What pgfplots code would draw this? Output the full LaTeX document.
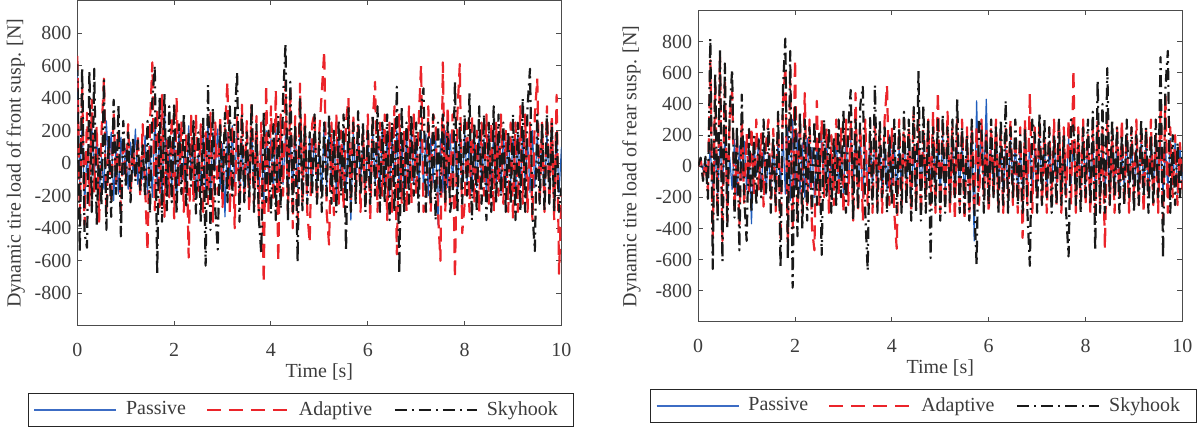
\documentclass[border=0pt]{standalone}
\usepackage{fontspec}
\setmainfont{Liberation Serif}
\usepackage{pgfplots}
\usepackage{pgfplotstable}
\pgfplotsset{compat=1.18}
\definecolor{cblue}{RGB}{32,94,189}
\definecolor{lblue}{RGB}{60,108,196}
\definecolor{cred}{RGB}{235,36,42}
\definecolor{cblk}{RGB}{25,25,25}
\definecolor{txt}{RGB}{60,60,60}

\pgfplotstableread{
t P A S
0.00 560 660 610
0.05 -120 -310 -550
0.10 240 470 590
0.15 -260 -380 -430
0.20 60 310 -520
0.25 -140 -260 570
0.30 230 390 -300
0.35 -90 -180 580
0.40 170 230 -380
0.45 -210 -360 90
0.50 40 190 -260
0.55 -160 520 510
0.60 260 -310 -410
0.65 -30 140 170
0.70 190 -240 -330
0.75 -230 310 390
0.80 110 -130 -190
0.85 -190 210 360
0.90 160 -290 -450
0.95 -70 170 260
1.00 90 -110 -140
1.05 -160 240 190
1.10 130 -190 -240
1.15 -60 90 160
1.20 210 -80 -110
1.25 -130 170 140
1.30 20 -210 -170
1.35 -100 240 110
1.40 170 -140 -210
1.45 -190 -540 260
1.50 110 240 -310
1.55 -210 620 390
1.60 270 -290 600
1.65 -140 340 -680
1.70 210 -270 410
1.75 -230 420 -360
1.80 360 -330 430
1.85 -170 140 -290
1.90 80 -210 350
1.95 -150 290 -240
2.00 190 -340 370
2.05 -260 400 -310
2.10 210 -140 240
2.15 -110 260 -190
2.20 30 -300 310
2.25 -190 190 -260
2.30 230 -580 190
2.35 -90 300 -140
2.40 170 -240 260
2.45 -210 300 -310
2.50 60 -170 190
2.55 -160 240 -360
2.60 200 -300 290
2.65 -180 190 -630
2.70 260 -250 480
2.75 -220 310 -410
2.80 190 -360 340
2.85 -40 250 -290
2.90 210 -190 -530
2.95 -160 290 240
3.00 120 -270 -190
3.05 -330 200 310
3.10 190 500 -240
3.15 -140 -310 350
3.20 230 240 -200
3.25 -120 -400 260
3.30 200 290 560
3.35 -190 -250 -360
3.40 140 360 300
3.45 -220 -190 -240
3.50 50 260 190
3.55 -130 -300 -210
3.60 210 380 370
3.65 -150 -240 -300
3.70 180 290 240
3.75 -200 -350 -340
3.80 160 250 -560
3.85 -250 -740 310
3.90 200 480 -240
3.95 -90 -300 200
4.00 150 350 -310
4.05 -190 -240 240
4.10 220 450 -350
4.15 -150 -610 290
4.20 260 300 -280
4.25 -130 -200 400
4.30 180 500 730
4.35 -200 -310 -360
4.40 150 450 500
4.45 -190 -400 -300
4.50 230 290 240
4.55 -150 -350 -610
4.60 200 490 410
4.65 -110 -250 -290
4.70 150 300 240
4.75 -200 -300 -250
4.80 180 -490 190
4.85 -150 240 -200
4.90 200 310 300
4.95 -120 -240 -250
5.00 70 200 190
5.05 -180 440 -300
5.10 250 690 250
5.15 -150 -300 -200
5.20 200 -500 300
5.25 -120 250 -250
5.30 180 -320 200
5.35 -200 300 -300
5.40 150 -250 270
5.45 -150 200 -200
5.50 200 -280 300
5.55 -180 250 -540
5.60 150 400 350
5.65 -350 -250 -300
5.70 200 300 250
5.75 -150 -200 -250
5.80 180 250 320
5.85 -120 -300 -200
5.90 150 200 250
5.95 -200 -250 -300
6.00 180 300 200
6.05 -150 -350 -250
6.10 200 250 300
6.15 -120 500 -200
6.20 150 -300 350
6.25 -180 250 -300
6.30 220 -200 250
6.35 -150 300 -250
6.40 180 -350 300
6.45 -200 250 -350
6.50 150 -300 250
6.55 -120 350 -300
6.60 200 -560 470
6.65 -180 300 -680
6.70 150 -250 350
6.75 -200 200 -300
6.80 180 -300 250
6.85 -150 350 -250
6.90 200 -250 300
6.95 -120 300 -200
7.00 150 -200 250
7.05 -180 250 -300
7.10 200 600 350
7.15 -150 -300 460
7.20 180 -250 -300
7.25 -200 350 250
7.30 150 -300 -250
7.35 -120 300 300
7.40 200 250 -350
7.45 -380 -300 250
7.50 150 -600 -200
7.55 -180 620 300
7.60 200 -300 -250
7.65 -150 350 250
7.70 180 -250 -300
7.75 -120 300 -200
7.80 150 -710 500
7.85 -200 300 -300
7.90 180 610 250
7.95 -150 -430 -250
8.00 200 -250 300
8.05 -120 250 -200
8.10 150 -300 430
8.15 -180 300 -350
8.20 200 -250 250
8.25 -150 200 -300
8.30 180 -300 350
8.35 -120 250 -250
8.40 150 -200 300
8.45 -200 300 -350
8.50 180 -250 250
8.55 -150 250 -300
8.60 200 -300 350
8.65 -120 250 -250
8.70 150 -200 300
8.75 -180 300 -200
8.80 200 -250 250
8.85 -150 200 -300
8.90 180 -300 200
8.95 -120 250 -250
9.00 150 -350 300
9.05 -200 250 -350
9.10 180 -300 250
9.15 -150 350 -300
9.20 200 -250 400
9.25 -120 300 -300
9.30 150 -300 350
9.35 -180 250 580
9.40 200 -350 -300
9.45 -150 300 -540
9.50 180 520 300
9.55 -120 -250 -250
9.60 150 250 250
9.65 -200 -300 -300
9.70 180 350 300
9.75 -150 -250 -250
9.80 200 300 250
9.85 -120 -350 -300
9.90 150 420 200
9.95 -180 -680 -300
10.00 100 -200 -150
}\front

\pgfplotstableread{
t P A S
0.00 0 0 0
0.05 35 45 55
0.10 -25 -70 -95
0.15 45 30 60
0.20 -80 -160 -210
0.25 120 680 820
0.30 -160 -450 -660
0.35 90 520 600
0.40 -190 -310 -350
0.45 150 700 750
0.50 -120 -480 -610
0.55 190 560 660
0.60 -210 -350 -400
0.65 60 310 350
0.70 -150 480 620
0.75 170 -280 -330
0.80 -190 190 260
0.85 130 -380 -540
0.90 -90 300 460
0.95 160 -250 -200
1.00 -150 210 -480
1.05 110 -180 240
1.10 -370 250 -300
1.15 150 -190 190
1.20 -60 300 -250
1.25 180 -150 170
1.30 -150 210 -200
1.35 120 -260 300
1.40 -180 140 -170
1.45 80 300 250
1.50 -120 -210 -300
1.55 150 240 190
1.60 -200 -290 -250
1.65 180 310 350
1.70 -150 -480 -650
1.75 210 400 500
1.80 -180 640 820
1.85 250 -500 -600
1.90 -220 550 740
1.95 300 -400 -780
2.00 -150 690 400
2.05 210 -350 -450
2.10 -180 300 350
2.15 150 -300 -400
2.20 -200 470 300
2.25 180 -250 -350
2.30 -140 300 250
2.35 120 -400 -300
2.40 -200 -540 290
2.45 150 420 -250
2.50 -110 -250 210
2.55 180 300 -570
2.60 -150 -200 300
2.65 200 250 -190
2.70 -180 -300 250
2.75 50 200 -300
2.80 -120 -250 190
2.85 180 300 -250
2.90 -150 -200 300
2.95 120 250 -200
3.00 -180 -300 360
3.05 200 300 -300
3.10 -150 -250 250
3.15 180 300 490
3.20 -120 -350 -350
3.25 210 470 300
3.30 -150 -300 -280
3.35 180 250 400
3.40 -200 -350 510
3.45 150 300 -300
3.50 -120 -250 -670
3.55 180 200 310
3.60 -150 -300 -250
3.65 200 300 520
3.70 -120 -250 -300
3.75 150 200 300
3.80 -180 -300 -200
3.85 120 300 250
3.90 -150 520 -300
3.95 200 -250 200
4.00 -120 250 -250
4.05 150 -300 300
4.10 -180 -530 -300
4.15 120 300 250
4.20 -150 -250 -300
4.25 200 300 350
4.30 -120 -200 -250
4.35 150 250 300
4.40 -180 -300 -350
4.45 120 350 380
4.50 -200 -250 -300
4.55 150 300 610
4.60 -150 -300 -350
4.65 120 250 390
4.70 -180 -200 -300
4.75 200 300 300
4.80 -150 -250 -590
4.85 180 350 250
4.90 -120 -300 -250
4.95 150 480 300
5.00 -180 -300 -350
5.05 200 250 330
5.10 -150 -250 -300
5.15 180 350 250
5.20 -120 -300 -250
5.25 150 250 300
5.30 -180 -350 -200
5.35 120 300 430
5.40 -150 -250 -300
5.45 180 300 250
5.50 -200 -350 -300
5.55 150 250 200
5.60 -150 -300 -350
5.65 250 250 300
5.70 -480 -300 -250
5.75 420 250 -630
5.80 -150 -250 300
5.85 300 300 250
5.90 -120 -200 -300
5.95 430 250 200
6.00 -180 -300 -250
6.05 120 250 300
6.10 -150 -200 -200
6.15 180 300 250
6.20 -120 -250 -300
6.25 150 200 300
6.30 -180 -300 -250
6.35 120 250 420
6.40 -150 -200 -300
6.45 180 300 250
6.50 -120 -250 -200
6.55 150 200 300
6.60 -180 -300 -250
6.65 120 250 200
6.70 -150 -460 -300
6.75 180 300 250
6.80 -120 -250 -300
6.85 150 470 -640
6.90 -180 -300 300
6.95 120 250 200
7.00 -150 -200 -300
7.05 180 300 340
7.10 -120 -250 -250
7.15 150 200 300
7.20 -180 -300 -200
7.25 120 250 250
7.30 -150 -200 -300
7.35 180 300 200
7.40 -120 -250 -250
7.45 150 300 300
7.50 -180 -300 -250
7.55 120 250 200
7.60 -150 -200 -300
7.65 180 300 -580
7.70 -120 -250 300
7.75 150 620 250
7.80 -180 -300 -250
7.85 120 250 200
7.90 -150 -200 -300
7.95 180 300 250
8.00 -120 -250 -200
8.05 150 200 300
8.10 -180 -300 -250
8.15 120 250 350
8.20 -150 -300 -540
8.25 180 300 550
8.30 -120 -250 -300
8.35 150 250 400
8.40 -180 -530 -300
8.45 120 300 630
8.50 -150 -250 -250
8.55 180 200 300
8.60 -120 -300 -200
8.65 150 250 250
8.70 -180 -200 -300
8.75 120 300 200
8.80 -150 -250 -250
8.85 180 200 300
8.90 -120 -300 -200
8.95 150 250 250
9.00 -180 -200 -300
9.05 120 300 200
9.10 -150 -250 -250
9.15 180 200 300
9.20 -120 -300 -200
9.25 150 250 250
9.30 -180 -200 -300
9.35 120 300 200
9.40 -150 -250 -250
9.45 180 200 300
9.50 -120 -300 -200
9.55 150 400 700
9.60 -180 -350 -590
9.65 120 450 500
9.70 -150 -300 740
9.75 180 250 -300
9.80 -120 -200 200
9.85 150 200 -250
9.90 -180 -250 150
9.95 120 150 -200
10.00 -100 -150 100
}\rear

\pgfplotsset{
  every axis/.append style={
    scale only axis,
    font=\fontsize{10}{12}\selectfont,
    xmin=0, xmax=10, ymin=-1000, ymax=1000,
    xtick={0,2,4,6,8,10},
    ytick={-800,-600,-400,-200,0,200,400,600,800},
    tick align=inside,
    major tick length=2.5pt,
    axis line style={black!70, line width=0.5pt},
    every tick/.style={black!70, line width=0.5pt},
    tick label style={text=txt, font=\fontsize{10}{12}\selectfont},
    label style={text=txt, font=\fontsize{10}{12}\selectfont},
    /pgf/number format/assume math mode=true,
    /pgf/number format/1000 sep={},
    xticklabel style={yshift=-5pt},
    yticklabel style={xshift=0.5pt},
    xlabel={Time [s]},
    xlabel style={at={(axis description cs:0.5,0)}, anchor=center, yshift=-23pt},
    legend columns=3,
    legend cell align=left,
    legend image code/.code={\draw[#1] (0pt,0pt) -- (41pt,0pt);},
    legend style={anchor=north west, draw=black!85, line width=0.5pt,
      font=\fontsize{10}{12}\selectfont, text=txt,
      inner xsep=2.5pt, inner ysep=2pt,
      /tikz/every even column/.append style={column sep=0pt}},
  },
}
\tikzset{
  pas/.style={draw=cblue, line width=0.6pt, line join=round},
  ada/.style={draw=cred, line width=1.1pt, dash pattern=on 7pt off 4pt, line join=round},
  sky/.style={draw=cblk, line width=1.1pt, dash pattern=on 6pt off 2.5pt on 1pt off 2.5pt, line join=round},
}
\newcommand{\lentry}[2]{\hspace*{2.5pt}\makebox[#1][l]{#2}}

\begin{document}
\begin{tikzpicture}
\begin{axis}[
  at={(0pt,0pt)}, anchor=south west,
  width=242.5pt, height=163pt,
  ylabel={Dynamic tire load of front susp. [N]},
  ylabel style={at={(axis description cs:-0.127,0.5)}, anchor=center},
  legend style={at={(axis description cs:-0.102,-0.206)}},
]
\addlegendimage{draw=lblue, line width=0.9pt}
\addlegendentry{\lentry{38pt}{Passive}}
\addlegendimage{ada}
\addlegendentry{\lentry{45.5pt}{Adaptive}}
\addlegendimage{sky}
\addlegendentry{\lentry{39pt}{Skyhook}}
\addplot[pas, forget plot] table[x=t, y=P] {\front};
\addplot[ada, forget plot] table[x=t, y=A] {\front};
\addplot[sky, forget plot] table[x=t, y=S] {\front};
\end{axis}
\begin{axis}[
  at={(311pt,2pt)}, anchor=south west,
  width=242.5pt, height=156pt,
  ylabel={Dynamic tire load of rear susp. [N]},
  ylabel style={at={(axis description cs:-0.138,0.5)}, anchor=center},
  legend style={at={(axis description cs:-0.099,-0.215)}},
]
\addlegendimage{draw=lblue, line width=0.9pt}
\addlegendentry{\lentry{38pt}{Passive}}
\addlegendimage{ada}
\addlegendentry{\lentry{45.5pt}{Adaptive}}
\addlegendimage{sky}
\addlegendentry{\lentry{39pt}{Skyhook}}
\addplot[pas, forget plot] table[x=t, y=P] {\rear};
\addplot[ada, forget plot] table[x=t, y=A] {\rear};
\addplot[sky, forget plot] table[x=t, y=S] {\rear};
\end{axis}
\end{tikzpicture}
\end{document}
